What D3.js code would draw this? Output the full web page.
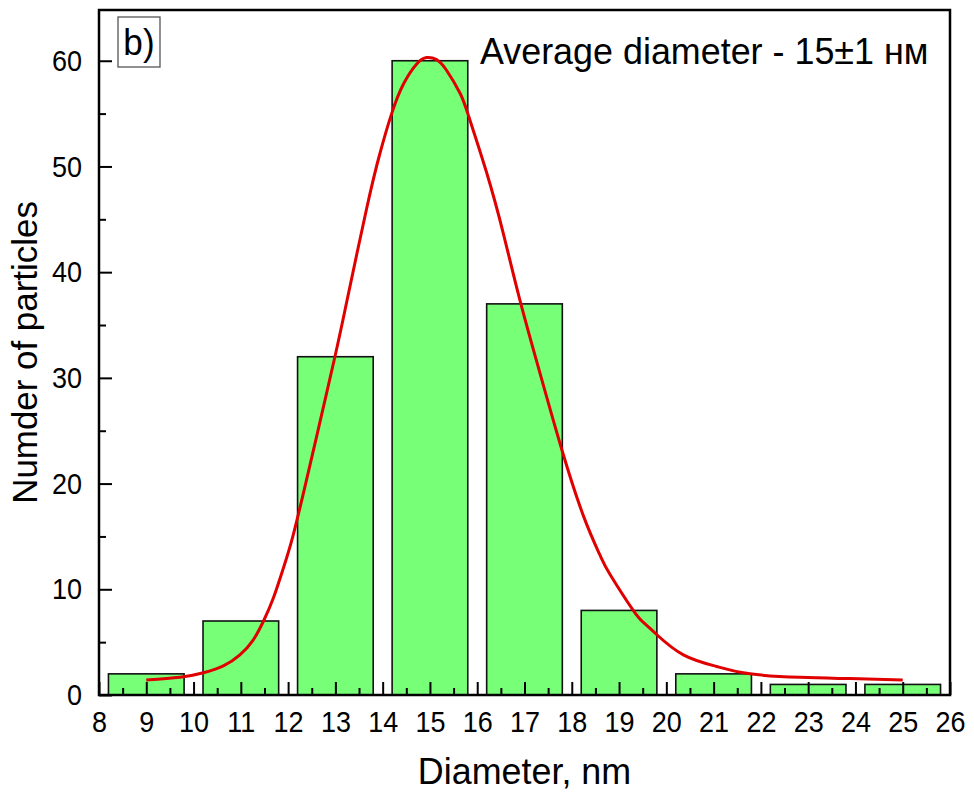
<!DOCTYPE html>
<html>
<head>
<meta charset="utf-8">
<script src="https://cdn.jsdelivr.net/npm/d3@7"></script>
<style>
  body { margin: 0; background: #fff; }
  text { font-family: "Liberation Sans", Arial, sans-serif; fill: #000; }
</style>
</head>
<body>
<svg id="chart" width="974" height="796"></svg>
<script>
// Histogram of particle diameters (bin centres, nm) and counts
const diameters = [9, 11, 13, 15, 17, 19, 21, 23, 25];
const counts = [2, 7, 32, 60, 37, 8, 2, 1, 1];

// Fitted distribution curve, sampled points
const fitX = [9.0, 9.71, 10.21, 10.63, 10.98, 11.26, 11.48, 11.69, 11.90, 12.10, 12.35, 12.60, 12.99, 13.24,
  13.66, 13.94, 14.19, 14.44, 14.72, 14.93, 15.14, 15.35, 15.64, 15.83, 16.20, 16.55, 16.90, 17.33,
  17.79, 18.25, 18.60, 18.81, 19.30, 19.51, 19.80, 20.36, 21.06, 21.77, 22.83, 23.88, 25.0];
const fitY = [1.42, 1.67, 2.1, 2.75, 3.8, 5.2, 7.0, 9.2, 12.0, 15.0, 19.6, 24.4, 32.0, 37.2,
  46.0, 51.2, 55.0, 57.8, 59.7, 60.3, 60.1, 59.1, 56.9, 54.6, 49.4, 43.7, 37.4, 30.4,
  23.2, 16.9, 13.2, 11.4, 8.0, 6.9, 5.7, 3.8, 2.7, 2.0, 1.67, 1.55, 1.42];

// Axis ticks
const xTicks = [8, 9, 10, 11, 12, 13, 14, 15, 16, 17, 18, 19, 20, 21, 22, 23, 24, 25, 26];
const xMinorTicks = [8.5, 9.5, 10.5, 11.5, 12.5, 13.5, 14.5, 15.5, 16.5, 17.5, 18.5, 19.5, 20.5,
  21.5, 22.5, 23.5, 24.5, 25.5];
const yTicks = [0, 10, 20, 30, 40, 50, 60];
const yMinorTicks = [5, 15, 25, 35, 45, 55];

const svg = d3.select("#chart");
const plotLeft = 99, plotRight = 950, plotTop = 10, plotBottom = 695;
const binWidth = 1.6;

const x = d3.scaleLinear().domain([8, 26]).range([plotLeft, plotRight]);
const y = d3.scaleLinear().domain([0, 64.8]).range([plotBottom, plotTop]);

// Bars
svg.append("g")
  .selectAll("rect")
  .data(diameters)
  .join("rect")
  .attr("x", (d) => x(d - binWidth / 2))
  .attr("width", (d) => x(d + binWidth / 2) - x(d - binWidth / 2))
  .attr("y", (d, i) => y(counts[i]))
  .attr("height", (d, i) => y(0) - y(counts[i]))
  .attr("fill", "#78ff78")
  .attr("stroke", "#111")
  .attr("stroke-width", 1.6);

// Fit curve
const line = d3.line()
  .x((d) => x(d[0]))
  .y((d) => y(d[1]))
  .curve(d3.curveNatural);

svg.append("path")
  .datum(fitX.map((v, i) => [v, fitY[i]]))
  .attr("d", line)
  .attr("fill", "none")
  .attr("stroke", "#e00000")
  .attr("stroke-width", 3);

// Axes with inward ticks
const xAxis = svg.append("g")
  .attr("transform", `translate(0,${plotBottom})`)
  .call(d3.axisBottom(x).tickValues(xTicks).tickSizeInner(-13).tickSizeOuter(0).tickPadding(16));
const xMinor = svg.append("g")
  .attr("transform", `translate(0,${plotBottom})`)
  .call(d3.axisBottom(x).tickValues(xMinorTicks).tickSizeInner(-7).tickSizeOuter(0).tickFormat(""));
const yAxis = svg.append("g")
  .attr("transform", `translate(${plotLeft},0)`)
  .call(d3.axisLeft(y).tickValues(yTicks).tickSizeInner(-13).tickSizeOuter(0).tickPadding(19));
const yMinor = svg.append("g")
  .attr("transform", `translate(${plotLeft},0)`)
  .call(d3.axisLeft(y).tickValues(yMinorTicks).tickSizeInner(-7).tickSizeOuter(0).tickFormat(""));

[xAxis, xMinor, yAxis, yMinor].forEach((g) => {
  g.select(".domain").remove();
  g.selectAll(".tick line").attr("stroke", "#000").attr("stroke-width", 2);
});
[xAxis, yAxis].forEach((g) => {
  g.selectAll(".tick text")
    .attr("font-size", 30)
    .attr("font-family", '"Liberation Sans", Arial, sans-serif')
    .attr("fill", "#000")
    .attr("transform", "scale(0.9,1)");
});

// Plot frame
svg.append("rect")
  .attr("x", plotLeft).attr("y", plotTop)
  .attr("width", plotRight - plotLeft).attr("height", plotBottom - plotTop)
  .attr("fill", "none")
  .attr("stroke", "#000")
  .attr("stroke-width", 2.5);

// Panel label
svg.append("rect")
  .attr("x", 118).attr("y", 17).attr("width", 42).attr("height", 50)
  .attr("fill", "none").attr("stroke", "#555").attr("stroke-width", 1.3);
svg.append("text")
  .attr("transform", "translate(139,55) scale(0.95,1)")
  .attr("text-anchor", "middle")
  .attr("font-size", 37)
  .text("b)");

// Annotation
svg.append("text")
  .attr("transform", "translate(480,64) scale(0.97,1)")
  .attr("font-size", 37)
  .text("Average diameter - 15±1 нм");

// Axis titles
svg.append("text")
  .attr("transform", `translate(${(plotLeft + plotRight) / 2},784) scale(0.97,1)`)
  .attr("text-anchor", "middle")
  .attr("font-size", 37)
  .text("Diameter, nm");

svg.append("text")
  .attr("transform", `translate(37,${(plotTop + plotBottom) / 2}) rotate(-90) scale(0.97,1)`)
  .attr("text-anchor", "middle")
  .attr("font-size", 36)
  .text("Numder of particles");
</script>
</body>
</html>
